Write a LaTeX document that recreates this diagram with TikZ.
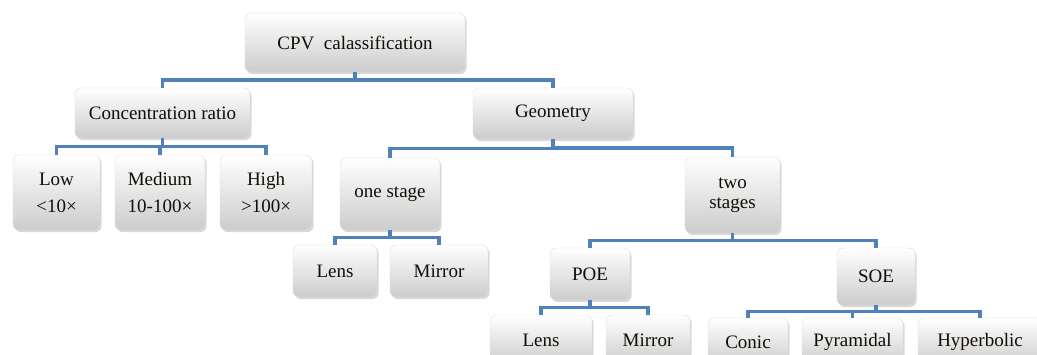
\documentclass[tikz,border=0pt]{standalone}
\usepackage{fontspec}
\setmainfont{Liberation Serif}
\usepackage{tikz}
\usetikzlibrary{calc,shadows}
\definecolor{linkblue}{HTML}{4F81BD}

\begin{document}
\begin{tikzpicture}[x=1pt,y=-1pt,
  b/.style={rounded corners=6pt,draw=gray!25,thin,top color=white,bottom color=gray!40,
    align=center,inner sep=0pt,text=black!90!brown,font=\fontsize{19}{27}\selectfont,
    drop shadow={shadow xshift=1.5pt,shadow yshift=-2pt,opacity=.3}},
  l/.style={draw=linkblue,line width=3.5pt}]
  \useasboundingbox[fill=white] (0,0) rectangle (1037,354);
  % top levels
  \node[b,minimum width=220,minimum height=59] (cpv) at (355,42.5) {CPV~~calassification};
  \node[b,minimum width=175,minimum height=50] (cr) at (162.5,113) {Concentration ratio};
  \node[b,minimum width=160,minimum height=51] (geo) at (553,113.5) {Geometry};
  % concentration ratio
  \node[b,minimum width=87,minimum height=75] (low) at (56.5,192.5) {Low\\{<}10×};
  \node[b,minimum width=90,minimum height=75] (med) at (160,192.5) {Medium\\10-100×};
  \node[b,minimum width=92,minimum height=75] (high) at (266,192.5) {High\\{>}100×};
  % geometry
  \node[b,minimum width=100,minimum height=72] (one) at (390,194) {one stage};
  \node[b,minimum width=95,minimum height=76,font=\fontsize{19}{20}\selectfont] (two) at (732.5,195) {two\\stages};
  \node[b,minimum width=84,minimum height=52] (lensa) at (335,271) {Lens};
  \node[b,minimum width=98,minimum height=52] (mira) at (439,271) {Mirror};
  \node[b,minimum width=80,minimum height=52] (poe) at (590,274) {POE};
  \node[b,minimum width=78,minimum height=57] (soe) at (876,276.5) {SOE};
  \node[b,minimum width=102,minimum height=50] (lensb) at (541,340) {Lens};
  \node[b,minimum width=84,minimum height=50] (mirb) at (648,340) {Mirror};
  \node[b,minimum width=80,minimum height=48] (conic) at (748,342) {Conic};
  \node[b,minimum width=101,minimum height=48] (pyr) at (852.5,342) {Pyramidal};
  \node[b,minimum width=124,minimum height=48] (hyp) at (980,342) {Hyperbolic};
  % links
  \foreach \p/\c in {cpv/cr,cpv/geo,cr/low,cr/med,cr/high,geo/one,geo/two,
      one/lensa,one/mira,two/poe,two/soe,poe/lensb,poe/mirb,soe/conic,soe/pyr,soe/hyp}
    \draw[l] (\p.south) |- ($(\p.south)!.5!(\c.north)$) -| (\c.north);
\end{tikzpicture}
\end{document}
